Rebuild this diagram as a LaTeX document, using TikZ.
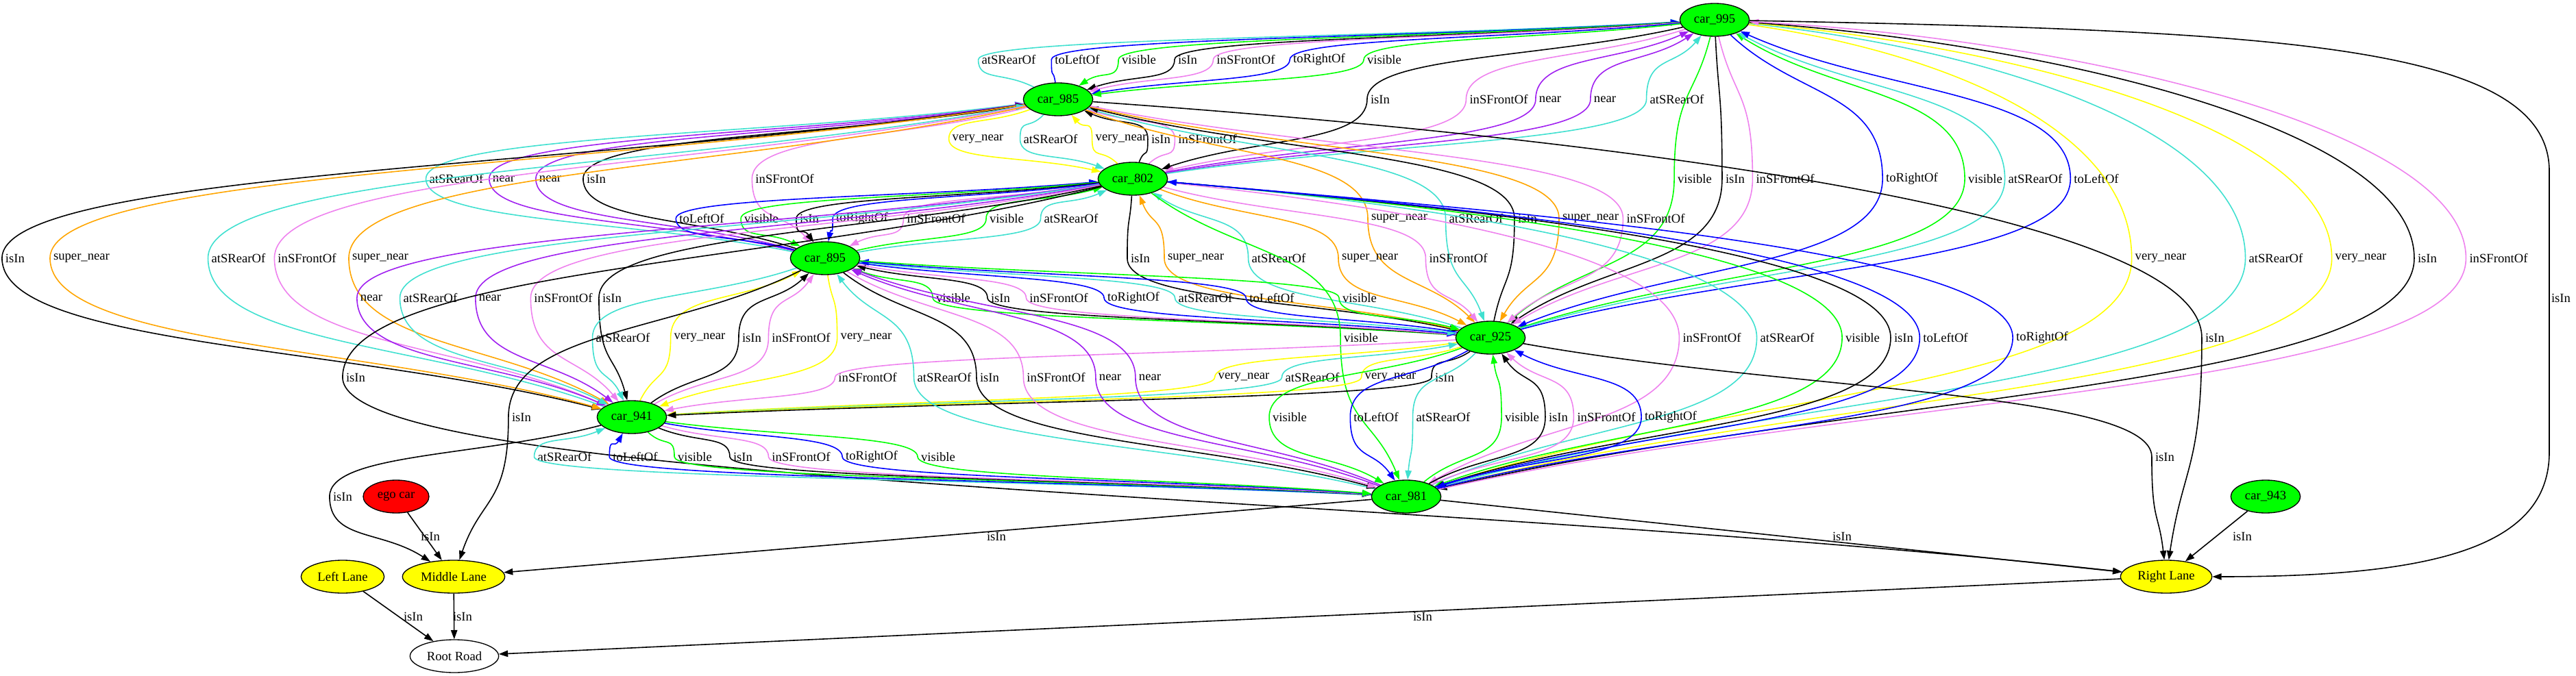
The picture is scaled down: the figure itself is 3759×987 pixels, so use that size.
\documentclass[tikz,border=0pt]{standalone}
\usepackage{fontspec}
\setmainfont{Liberation Serif}
\usetikzlibrary{shapes.geometric,arrows.meta,backgrounds}
\definecolor{cTq}{HTML}{40E0D0}
\definecolor{cBl}{HTML}{0000FF}
\definecolor{cGr}{HTML}{00FF00}
\definecolor{cBk}{HTML}{000000}
\definecolor{cVi}{HTML}{EE82EE}
\definecolor{cPu}{HTML}{A020F0}
\definecolor{cYe}{HTML}{FFFF00}
\definecolor{cOr}{HTML}{FFA500}
\definecolor{cRed}{HTML}{FF0000}
\newcounter{ec}
% optional #1: fixed leaving angle at the upper node
\newcommand\gE[8][]{%
  \stepcounter{ec}%
  \node[lbl] (L\arabic{ec}) at (#6,#7) {#8};%
  \coordinate (W\arabic{ec}) at ([xshift=-0.75pt]L\arabic{ec}.west);%
  \pgfpointanchor{#4}{center}\pgfgetlastxy{\eAx}{\eAy}%
  \pgfpointanchor{W\arabic{ec}}{center}\pgfgetlastxy{\eWx}{\eWy}%
  \pgfpointanchor{#5}{center}\pgfgetlastxy{\eBx}{\eBy}%
  \pgfmathsetmacro\eAX{((\eWx)-(\eAx))/10}%
  \pgfmathsetmacro\eAY{((\eWy)-(\eAy))/10}%
  \pgfmathsetmacro\eBX{((\eWx)-(\eBx))/10}%
  \pgfmathsetmacro\eBY{((\eWy)-(\eBy))/10}%
  \pgfmathsetmacro\eOa{atan2(\eAY,\eAX)}%
  \def\eTmp{#1}\ifx\eTmp\empty\else\def\eOa{#1}\fi
  \pgfmathsetmacro\eOb{atan2(\eBY,\eBX)}%
  \pgfmathsetmacro\eDa{4*veclen(\eAX,\eAY)}%
  \pgfmathsetmacro\eDb{4*veclen(\eBX,\eBY)}%
  \pgfmathsetmacro\eHa{-5.5*\eAY}%
  \pgfmathsetmacro\eHb{5.5*\eBY}%
  \draw[#2,#3] (#4) to[out=\eOa,in=90,out distance=\eDa pt,in distance=\eHa pt] (\eWx,\eWy)
     to[out=-90,in=\eOb,out distance=\eHb pt,in distance=\eDb pt] (#5);%
}
\tikzset{
  lbl/.style={font=\fontsize{3.5pt}{4pt}\selectfont, inner sep=0pt, text=black},
  gnode/.style={ellipse, draw=black, line width=0.25pt, minimum height=9pt, inner sep=0pt,
                font=\fontsize{3.5pt}{4pt}\selectfont},
  car/.style={gnode, fill=cGr, minimum width=19pt},
  lane/.style={gnode, fill=cYe},
  fw/.style={line width=0.3pt, -{Triangle[length=2.5pt,width=1.75pt]}},
  bw/.style={line width=0.3pt, {Triangle[length=2.5pt,width=1.75pt]}-},
}
\begin{document}
\begin{tikzpicture}[x=0.1875pt,y=-0.1875pt]
\useasboundingbox (0,0) rectangle (3759,987);
% nodes
\node[car] (n995) at (2502,29) {car\_995};
\node[car] (n985) at (1544,145) {car\_985};
\node[car] (n802) at (1653,261) {car\_802};
\node[car] (n895) at (1204,377) {car\_895};
\node[car] (n925) at (2175,493) {car\_925};
\node[car] (n941) at (922,609) {car\_941};
\node[car] (n981) at (2052,725) {car\_981};
\node[gnode, fill=cRed, minimum width=18pt] (nego) at (578,725) {ego car};
\node[car] (n943) at (3306,725) {car\_943};
\node[lane, minimum width=22.75pt] (nLL) at (500,842) {Left Lane};
\node[lane, minimum width=28pt] (nML) at (662,842) {Middle Lane};
\node[lane, minimum width=25pt] (nRL) at (3161,842) {Right Lane};
\node[gnode, fill=white, minimum width=24.25pt] (nRR) at (663,958) {Root Road};
\begin{pgfonlayer}{background}
% 995 - 985
\gE{cTq}{bw}{n995}{n985}{1472}{87}{atSRearOf}
\gE{cBl}{bw}{n995}{n985}{1572}{87}{toLeftOf}
\gE{cGr}{fw}{n995}{n985}{1662}{87}{visible}
\gE{cBk}{fw}{n995}{n985}{1733}{87}{isIn}
\gE{cVi}{fw}{n995}{n985}{1818}{87}{inSFrontOf}
\gE{cBl}{fw}{n995}{n985}{1925}{87}{toRightOf}
\gE{cGr}{fw}{n995}{n985}{2020}{87}{visible}
% 995 - 802
\gE{cBk}{fw}{n995}{n802}{2014}{145}{isIn}
\gE{cVi}{fw}{n995}{n802}{2187}{145}{inSFrontOf}
\gE{cPu}{bw}{n995}{n802}{2262}{145}{near}
\gE{cPu}{bw}{n995}{n802}{2342}{145}{near}
\gE{cTq}{bw}{n995}{n802}{2447}{145}{atSRearOf}
% 985 - 802
\gE{cYe}{fw}{n985}{n802}{1427}{203}{very\_near}
\gE{cTq}{fw}{n985}{n802}{1533}{203}{atSRearOf}
\gE{cYe}{bw}{n985}{n802}{1636}{203}{very\_near}
\gE{cBk}{bw}{n985}{n802}{1694}{203}{isIn}
\gE{cVi}{bw}{n985}{n802}{1762}{203}{inSFrontOf}
% 985 - 895
\gE{cTq}{bw}{n985}{n895}{666}{261}{atSRearOf}
\gE{cPu}{bw}{n985}{n895}{735}{261}{near}
\gE{cPu}{bw}{n985}{n895}{803}{261}{near}
\gE{cBk}{bw}{n985}{n895}{870}{261}{isIn}
\gE{cVi}{fw}{n985}{n895}{1145}{261}{inSFrontOf}
% 995 - 925
\gE{cGr}{fw}{n995}{n925}{2473}{261}{visible}
\gE{cBk}{fw}{n995}{n925}{2532}{261}{isIn}
\gE{cVi}{fw}{n995}{n925}{2605}{261}{inSFrontOf}
\gE{cBl}{fw}{n995}{n925}{2790}{261}{toRightOf}
\gE{cGr}{bw}{n995}{n925}{2897}{261}{visible}
\gE{cTq}{bw}{n995}{n925}{2970}{261}{atSRearOf}
\gE{cBl}{bw}{n995}{n925}{3059}{261}{toLeftOf}
% 802 - 895
\gE{cBl}{bw}{n802}{n895}{1024}{319}{toLeftOf}
\gE{cGr}{fw}{n802}{n895}{1111}{319}{visible}
\gE{cBk}{fw}{n802}{n895}{1181}{319}{isIn}
\gE{cBl}{fw}{n802}{n895}{1258}{319}{toRightOf}
\gE{cVi}{fw}{n802}{n895}{1366}{319}{inSFrontOf}
\gE{cGr}{bw}{n802}{n895}{1469}{319}{visible}
\gE{cTq}{bw}{n802}{n895}{1563}{319}{atSRearOf}
% 985 - 925
\gE{cOr}{fw}{n985}{n925}{2042}{319}{super\_near}
\gE{cTq}{fw}{n985}{n925}{2154}{319}{atSRearOf}
\gE{cBk}{bw}{n985}{n925}{2229}{319}{isIn}
\gE{cOr}{fw}{n985}{n925}{2321}{319}{super\_near}
\gE{cVi}{fw}{n985}{n925}{2416}{319}{inSFrontOf}
% 802 - 925
\gE{cBk}{fw}{n802}{n925}{1664}{377}{isIn}
\gE{cOr}{bw}{n802}{n925}{1745}{377}{super\_near}
\gE{cTq}{bw}{n802}{n925}{1866}{377}{atSRearOf}
\gE{cOr}{fw}{n802}{n925}{1999}{377}{super\_near}
\gE{cVi}{fw}{n802}{n925}{2128}{377}{inSFrontOf}
% 985 - 941
\gE{cBk}{fw}{n985}{n941}{22}{377}{isIn}
\gE{cOr}{fw}{n985}{n941}{119}{377}{super\_near}
\gE{cTq}{bw}{n985}{n941}{348}{377}{atSRearOf}
\gE{cVi}{fw}{n985}{n941}{448}{377}{inSFrontOf}
\gE{cOr}{fw}{n985}{n941}{555}{377}{super\_near}
% 995 - 981
\gE[-8]{cYe}{fw}{n995}{n981}{3153}{377}{very\_near}
\gE[-6]{cTq}{fw}{n995}{n981}{3321}{377}{atSRearOf}
\gE[-5]{cYe}{fw}{n995}{n981}{3445}{377}{very\_near}
\gE[-4]{cBk}{fw}{n995}{n981}{3542}{377}{isIn}
\gE[-3]{cVi}{bw}{n995}{n981}{3646}{377}{inSFrontOf}
% 802 - 941
\gE{cPu}{fw}{n802}{n941}{542}{435}{near}
\gE{cTq}{fw}{n802}{n941}{628}{435}{atSRearOf}
\gE{cPu}{fw}{n802}{n941}{715}{435}{near}
\gE{cVi}{fw}{n802}{n941}{822}{435}{inSFrontOf}
\gE{cBk}{fw}{n802}{n941}{893}{435}{isIn}
% 895 - 925
\gE{cGr}{bw}{n895}{n925}{1391}{435}{visible}
\gE{cBk}{bw}{n895}{n925}{1460}{435}{isIn}
\gE{cVi}{fw}{n895}{n925}{1545}{435}{inSFrontOf}
\gE{cBl}{fw}{n895}{n925}{1654}{435}{toRightOf}
\gE{cTq}{fw}{n895}{n925}{1759}{435}{atSRearOf}
\gE{cBl}{bw}{n895}{n925}{1856}{435}{toLeftOf}
\gE{cGr}{fw}{n895}{n925}{1984}{435}{visible}
% 895 - 941
\gE{cTq}{fw}{n895}{n941}{909}{493}{atSRearOf}
\gE{cYe}{bw}{n895}{n941}{1021}{493}{very\_near}
\gE{cBk}{bw}{n895}{n941}{1097}{493}{isIn}
\gE{cVi}{bw}{n895}{n941}{1169}{493}{inSFrontOf}
\gE{cYe}{fw}{n895}{n941}{1264}{493}{very\_near}
% 802 - 981
\gE{cGr}{fw}{n802}{n981}{1986}{493}{visible}
\gE[-6]{cVi}{fw}{n802}{n981}{2498}{493}{inSFrontOf}
\gE[-5]{cTq}{bw}{n802}{n981}{2608}{493}{atSRearOf}
\gE[-5]{cGr}{fw}{n802}{n981}{2718}{493}{visible}
\gE[-5]{cBk}{fw}{n802}{n981}{2778}{493}{isIn}
\gE[-5]{cBl}{fw}{n802}{n981}{2839}{493}{toLeftOf}
\gE[-5]{cBl}{bw}{n802}{n981}{2980}{493}{toRightOf}
% to Right Lane
\gE[-4]{cBk}{fw}{n985}{nRL}{3232}{493}{isIn}
\gE{cBk}{fw}{n802}{nRL}{519}{551}{isIn}
\gE{cBk}{fw}{n925}{nRL}{3159}{667}{isIn}
% 925 - 941
\gE{cVi}{fw}{n925}{n941}{1266}{551}{inSFrontOf}
\gE{cYe}{fw}{n925}{n941}{1815}{551}{very\_near}
\gE{cTq}{bw}{n925}{n941}{1915}{551}{atSRearOf}
\gE{cYe}{fw}{n925}{n941}{2029}{551}{very\_near}
\gE{cBk}{fw}{n925}{n941}{2108}{551}{isIn}
% 895 - 981
\gE{cTq}{bw}{n895}{n981}{1378}{551}{atSRearOf}
\gE{cBk}{fw}{n895}{n981}{1444}{551}{isIn}
\gE{cVi}{fw}{n895}{n981}{1541}{551}{inSFrontOf}
\gE{cPu}{bw}{n895}{n981}{1620}{551}{near}
\gE{cPu}{bw}{n895}{n981}{1678}{551}{near}
% 925 - 981
\gE{cGr}{fw}{n925}{n981}{1882}{609}{visible}
\gE{cBl}{fw}{n925}{n981}{2008}{609}{toLeftOf}
\gE{cTq}{fw}{n925}{n981}{2106}{609}{atSRearOf}
\gE{cGr}{bw}{n925}{n981}{2221}{609}{visible}
\gE{cBk}{bw}{n925}{n981}{2274}{609}{isIn}
\gE{cVi}{bw}{n925}{n981}{2344}{609}{inSFrontOf}
\gE{cBl}{bw}{n925}{n981}{2438}{609}{toRightOf}
% 941 - 981
\gE{cTq}{bw}{n941}{n981}{824}{667}{atSRearOf}
\gE{cBl}{bw}{n941}{n981}{927}{667}{toLeftOf}
\gE{cGr}{fw}{n941}{n981}{1014}{667}{visible}
\gE{cBk}{fw}{n941}{n981}{1084}{667}{isIn}
\gE{cVi}{fw}{n941}{n981}{1169}{667}{inSFrontOf}
\gE{cBl}{fw}{n941}{n981}{1272}{667}{toRightOf}
\gE{cGr}{fw}{n941}{n981}{1369}{667}{visible}
% to Middle Lane
\gE{cBk}{fw}{n895}{nML}{761}{609}{isIn}
\gE{cBk}{fw}{n941}{nML}{500}{725}{isIn}
% 995 -> Right Lane
\node[lbl] (Lr995) at (3737,435) {isIn};
\draw[cBk,fw] (n995) .. controls (3300,45) and (3720,60) .. (3720,250) -- (3720,660)
   .. controls (3720,800) and (3550,842) .. (nRL);
% straight edges
\node[lbl] (Lego) at (628,783) {isIn};
\draw[cBk,fw] (nego) -- (nML);
\node[lbl] (L981m) at (1454,783) {isIn};
\draw[cBk,fw] (n981) -- (nML);
\node[lbl] (L981r) at (2688,783) {isIn};
\draw[cBk,fw] (n981) -- (nRL);
\node[lbl] (L943) at (3272,783) {isIn};
\draw[cBk,fw] (n943) -- (nRL);
\node[lbl] (LLL) at (603,900) {isIn};
\draw[cBk,fw] (nLL) -- (nRR);
\node[lbl] (LML) at (675,900) {isIn};
\draw[cBk,fw] (nML) -- (nRR);
\node[lbl] (LRL) at (2076,900) {isIn};
\draw[cBk,fw] (nRL) -- (nRR);
\end{pgfonlayer}
\end{tikzpicture}
\end{document}
